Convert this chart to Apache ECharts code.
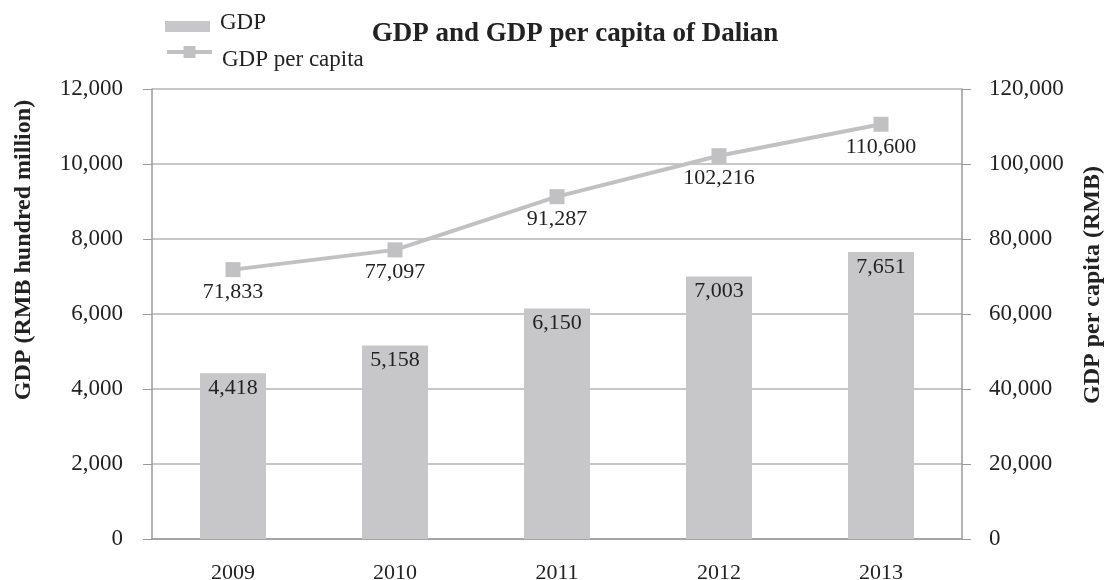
<!DOCTYPE html>
<html>
<head>
<meta charset="utf-8">
<script src="https://cdn.jsdelivr.net/npm/echarts@6/dist/echarts.min.js"></script>
<style>
  html, body { margin: 0; padding: 0; background: #fff; }
  #chart { width: 1108px; height: 580px; }
</style>
</head>
<body>
<div id="chart"></div>
<script>
// Dalian economic indicators, 2009–2013
const years = ['2009', '2010', '2011', '2012', '2013'];
const gdp = [4418, 5158, 6150, 7003, 7651];                    // RMB hundred million
const gdpPerCapita = [71833, 77097, 91287, 102216, 110600];    // RMB
const leftTicks = [0, 2000, 4000, 6000, 8000, 10000, 12000];
const rightTicks = [0, 20000, 40000, 60000, 80000, 100000, 120000];

const serif = '"Liberation Serif", "Times New Roman", serif';
const fmt = v => v.toLocaleString('en-US');
const barColor = '#c7c7c9';
const lineColor = '#c1c1c4';
const axisGray = '#9a9a9a';

const chart = echarts.init(document.getElementById('chart'));
chart.setOption({
  backgroundColor: '#fff',
  animation: false,
  textStyle: { fontFamily: serif, color: '#222' },
  title: {
    text: 'GDP and GDP per capita of Dalian',
    left: 570, top: 16, textAlign: 'center',
    textStyle: { fontFamily: serif, fontWeight: 'bold', fontSize: 27, color: '#222' }
  },
  legend: [
    {
      // text sits a little above the swatch
      data: ['GDP'], left: 165, top: 11, padding: 0, itemWidth: 45, itemHeight: 11, itemGap: 0,
      icon: 'rect',
      formatter: '{t|{name}}',
      textStyle: {
        fontFamily: serif, fontSize: 23, color: '#222',
        rich: { t: { fontFamily: serif, fontSize: 23, color: '#222', padding: [0, 0, 8, 5] } }
      }
    },
    {
      // text sits a little below the line marker
      data: ['GDP per capita'], left: 165, top: 46, padding: 0, itemWidth: 45, itemHeight: 15,
      lineStyle: { width: 4, color: lineColor },
      formatter: '{t|{name}}',
      textStyle: {
        fontFamily: serif, fontSize: 23, color: '#222',
        rich: { t: { fontFamily: serif, fontSize: 23, color: '#222', padding: [16, 0, 0, 5] } }
      }
    }
  ],
  grid: { left: 152, right: 146, top: 89, bottom: 41, outerBoundsMode: 'none' },
  xAxis: {
    type: 'category',
    data: years,
    axisLine: { lineStyle: { color: axisGray, width: 1.5 } },
    axisTick: { show: false },
    axisLabel: { fontFamily: serif, fontSize: 22, color: '#222', margin: 23 }
  },
  yAxis: [
    {
      type: 'value', min: leftTicks[0], max: leftTicks[leftTicks.length - 1], interval: 2000,
      axisLine: { show: true, lineStyle: { color: axisGray, width: 1.5 } },
      axisTick: { show: true, length: 9, lineStyle: { color: axisGray } },
      splitLine: { show: true, lineStyle: { color: '#b4b4b4', width: 1.5 } },
      axisLabel: { fontFamily: serif, fontSize: 23, color: '#222', margin: 29, formatter: fmt }
    },
    {
      type: 'value', min: rightTicks[0], max: rightTicks[rightTicks.length - 1], interval: 20000,
      axisLine: { show: true, lineStyle: { color: axisGray, width: 1.5 } },
      axisTick: { show: true, length: 9, lineStyle: { color: axisGray } },
      splitLine: { show: false },
      axisLabel: { fontFamily: serif, fontSize: 23, color: '#222', margin: 27, formatter: fmt }
    }
  ],
  graphic: [
    {
      type: 'text', x: 24, y: 250, rotation: Math.PI / 2,
      style: {
        text: 'GDP (RMB hundred million)', fontFamily: serif, fontWeight: 'bold', fontSize: 24,
        fill: '#222', align: 'center', verticalAlign: 'middle'
      }
    },
    {
      type: 'text', x: 1093, y: 285, rotation: Math.PI / 2,
      style: {
        text: 'GDP per capita (RMB)', fontFamily: serif, fontWeight: 'bold', fontSize: 24,
        fill: '#222', align: 'center', verticalAlign: 'middle'
      }
    }
  ],
  series: [
    {
      name: 'GDP', type: 'bar', data: gdp, yAxisIndex: 0, barWidth: 66,
      itemStyle: { color: barColor },
      label: {
        show: true, position: 'insideTop', distance: 4, formatter: p => fmt(p.value),
        fontFamily: serif, fontSize: 22, color: '#222'
      }
    },
    {
      name: 'GDP per capita', type: 'line', data: gdpPerCapita, yAxisIndex: 1,
      symbol: 'rect', symbolSize: 15,
      lineStyle: { color: lineColor, width: 4 },
      itemStyle: { color: lineColor },
      label: {
        show: true, position: 'bottom', distance: 4, formatter: p => fmt(p.value),
        fontFamily: serif, fontSize: 22, color: '#222'
      }
    }
  ]
});
</script>
</body>
</html>
